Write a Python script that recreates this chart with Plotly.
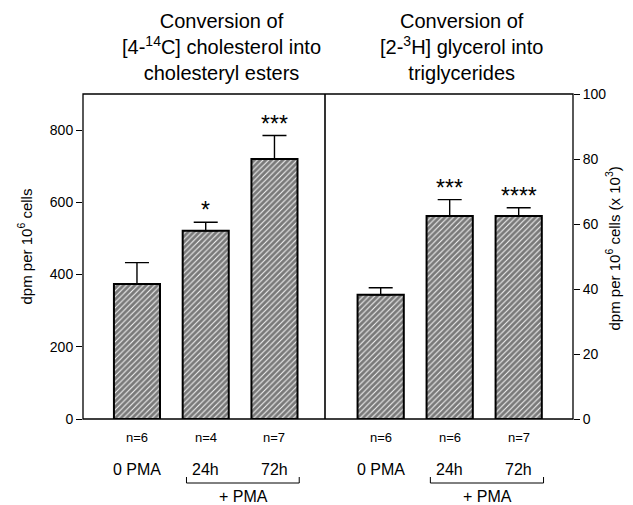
import plotly.graph_objects as go

# ---- data ----
categories = ["0 PMA", "24h", "72h"]
n_chol = ["n=6", "n=4", "n=7"]
n_tg = ["n=6", "n=6", "n=7"]
chol_values = [374, 521, 720]          # dpm per 10^6 cells
chol_err_top = [433, 545, 785]
chol_stars = ["", "*", "***"]
tg_values = [38.2, 62.5, 62.5]         # dpm per 10^6 cells (x 10^3)
tg_err_top = [40.4, 67.5, 65.0]
tg_stars = ["", "***", "****"]
left_ticks = [0, 200, 400, 600, 800]
right_ticks = [0, 20, 40, 60, 80, 100]

FONT = "Liberation Sans, Arial, sans-serif"
# page body has an 8px margin, so the figure is 8px smaller than the window
W, H = 625, 497
ML, MR, MT, MB = 75, 60, 86, 86
PW = W - ML - MR
PH = H - MT - MB
DIV = 242 / PW

xs = list(range(len(categories)))

def bar(values, tops, xa, ya):
    return go.Bar(
        x=xs, y=values, xaxis=xa, yaxis=ya, width=0.67,
        marker=dict(color="white", line=dict(color="black", width=2),
                    pattern=dict(shape="/", fgcolor="#000", bgcolor="#f2f2f2",
                                 size=4, solidity=0.72)),
        error_y=dict(type="data", symmetric=False,
                     array=[t - v for t, v in zip(tops, values)],
                     arrayminus=[0] * len(values),
                     color="black", thickness=1.4, width=12),
        showlegend=False, hoverinfo="skip")

fig = go.Figure()
fig.add_trace(bar(chol_values, chol_err_top, "x", "y"))
fig.add_trace(bar(tg_values, tg_err_top, "x2", "y2"))

axfont = dict(family=FONT, size=14, color="black")
fig.update_layout(
    width=W, height=H, margin=dict(l=ML, r=MR, t=MT, b=MB),
    paper_bgcolor="white", plot_bgcolor="white",
    font=dict(family=FONT, color="black"),
    xaxis=dict(domain=[0, DIV], range=[-0.785, 2.735], showticklabels=False,
               ticks="", showgrid=False, zeroline=False, showline=False),
    xaxis2=dict(domain=[DIV, 1], range=[-0.807, 2.787], showticklabels=False,
                ticks="", showgrid=False, zeroline=False, showline=False),
    yaxis=dict(anchor="x", range=[0, 900], tickvals=left_ticks, ticks="outside",
               ticklen=6, tickcolor="black", tickwidth=1.2, showgrid=False,
               zeroline=False, showline=False, tickfont=axfont),
    yaxis2=dict(anchor="x2", side="right", range=[0, 100], tickvals=right_ticks,
                ticks="outside", ticklen=6, tickcolor="black", tickwidth=1.2,
                showgrid=False, zeroline=False, showline=False, tickfont=axfont),
)

# frame and divider
fig.add_shape(type="rect", xref="paper", yref="paper", x0=0, x1=1, y0=0, y1=1,
              line=dict(color="black", width=1.3))
fig.add_shape(type="line", xref="paper", yref="paper", x0=DIV, x1=DIV, y0=0, y1=1,
              line=dict(color="black", width=1.6))

ann = []
# titles
ann.append(dict(xref="paper", yref="paper", x=0, y=1, xshift=138, yshift=47,
                xanchor="center", yanchor="middle", showarrow=False,
                text="Conversion of<br>[4-<sup>14</sup>C] cholesterol into<br>cholesteryl esters",
                font=dict(family=FONT, size=20)))
ann.append(dict(xref="paper", yref="paper", x=0, y=1, xshift=378, yshift=47,
                xanchor="center", yanchor="middle", showarrow=False,
                text="Conversion of<br>[2-<sup>3</sup>H] glycerol into<br>triglycerides",
                font=dict(family=FONT, size=20)))
# axis titles
ann.append(dict(xref="paper", yref="paper", x=0, y=0.5, xshift=-58, yshift=10,
                textangle=-90, showarrow=False, xanchor="center", yanchor="middle",
                text="dpm per 10<sup>6</sup> cells", font=dict(family=FONT, size=15)))
ann.append(dict(xref="paper", yref="paper", x=1, y=0.5, xshift=40, yshift=8,
                textangle=-90, showarrow=False, xanchor="center", yanchor="middle",
                text="dpm per 10<sup>6</sup> cells (x 10<sup>3</sup>)",
                font=dict(family=FONT, size=15)))

yb = -64 / PH
yt = -58 / PH
for xa, ya, tops, stars, ns in [("x", "y", chol_err_top, chol_stars, n_chol),
                                ("x2", "y2", tg_err_top, tg_stars, n_tg)]:
    for i, cat in enumerate(categories):
        if stars[i]:
            ann.append(dict(xref=xa, yref=ya, x=i, y=tops[i], yanchor="bottom",
                            yshift=-3, showarrow=False, text=stars[i],
                            font=dict(family=FONT, size=23)))
        ann.append(dict(xref=xa, yref="paper", x=i, y=0, yshift=-18,
                        yanchor="middle", showarrow=False, text=ns[i],
                        font=dict(family=FONT, size=13)))
        ann.append(dict(xref=xa, yref="paper", x=i, y=0, yshift=-50,
                        yanchor="middle", showarrow=False, text=cat,
                        font=dict(family=FONT, size=16)))
    ann.append(dict(xref=xa, yref="paper", x=1.55, y=0, yshift=-77,
                    yanchor="middle", showarrow=False, text="+ PMA",
                    font=dict(family=FONT, size=16)))
    for xv in (0.72, 2.36):
        fig.add_shape(type="line", xref=xa, yref="paper", x0=xv, x1=xv, y0=yb, y1=yt,
                      line=dict(color="black", width=1))
    fig.add_shape(type="line", xref=xa, yref="paper", x0=0.72, x1=2.36, y0=yb, y1=yb,
                  line=dict(color="black", width=1))

fig.update_layout(annotations=ann)
fig.write_html("out.html")
